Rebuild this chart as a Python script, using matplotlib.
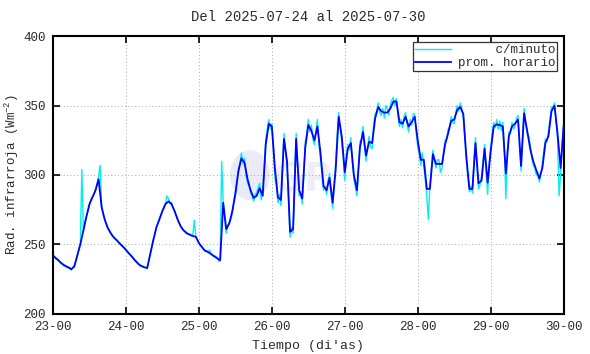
import numpy as np
import matplotlib
matplotlib.use('Agg')
import matplotlib.pyplot as plt
from matplotlib.patches import Ellipse

# datos: promedio horario (desde el dia 23 a las 00h, una muestra por hora)
prom_horario = [
    242, 240, 238, 236, 234.5, 233.5, 232, 234, 242, 250, 260, 270, 279, 284, 289, 297,
    277, 268, 262, 258, 255, 253, 250.5, 248.5, 246, 243.5, 241, 238.5, 236, 234.5, 233.5, 233,
    243, 253, 262, 268, 274, 279, 281, 279, 274, 268, 263, 260, 258, 257, 256, 255.5,
    251, 248, 245.5, 244.5, 243, 241.5, 240, 238.5, 280, 261, 265, 274, 286, 303, 312, 309,
    297, 289, 283.5, 285, 290.5, 285, 322, 337, 335, 305, 284, 282, 326, 310, 259, 261,
    326, 289, 283, 320, 336, 332, 325, 335, 316, 292, 289, 298, 280, 304, 342, 328,
    302, 319, 323, 300, 289, 320, 331, 314, 324, 323, 341, 349, 346, 345, 345, 348,
    353, 353, 338, 337, 342, 335, 338, 342, 325, 311, 311, 290, 290, 315, 308, 308,
    308, 322, 330, 339, 340, 347, 349, 344, 313, 290, 290, 323, 294, 296, 319, 294.5,
    317, 335, 336.5, 336, 335, 301, 328, 335, 337, 340, 306.5, 344.5, 332, 319, 310, 303.5,
    297.5, 305, 323, 328, 346, 350, 330, 305, 335,
]

# datos por minuto (leidos cada media hora)
c_minuto = [
    243, 240.5, 239, 239.5, 238.5, 236, 236.5, 234.5, 235, 233.5, 233, 233.5, 231.5, 233.5, 234.5, 237.5,
    241.5, 246.5, 250.5, 304, 259.5, 265.5, 270.5, 274, 278.5, 282.5, 284.5, 286, 289.5, 293, 299, 307,
    277.5, 271.5, 268.5, 264.5, 261.5, 260.5, 258.5, 256, 255.5, 253.5, 253, 251.5, 251, 249, 248, 247.5,
    246.5, 244.5, 243, 242.5, 241.5, 239.5, 238, 237.5, 236.5, 235, 234, 234.5, 233.5, 233, 232.5, 238.5,
    243.5, 248, 253.5, 257, 262.5, 265, 268.5, 271, 274.5, 277, 280, 285, 283, 279.5, 280.5, 276,
    274.5, 271, 268, 265, 263.5, 261, 260, 259.5, 258.5, 257, 257.5, 256, 256.5, 267.5, 255, 253,
    251.5, 249, 248.5, 246.5, 245, 245.5, 244, 246, 243.5, 242, 241, 241.5, 240.5, 238, 238, 310,
    281, 268, 258, 264, 266, 268, 272, 282, 288, 296, 301, 309, 316, 308, 312, 300,
    294, 292, 287, 285, 281, 286, 287, 291, 294, 282, 288, 305, 326, 333, 340, 333,
    337, 322, 298, 292, 280, 286, 278, 306, 330, 318, 306, 282, 255, 262, 258, 298,
    330, 305, 285, 288, 279, 300, 324, 330, 340, 331, 336, 326, 322, 332, 340, 322,
    312, 300, 289, 292, 286, 296, 301, 286, 276, 292, 308, 330, 345, 333, 324, 312,
    296, 314, 322, 318, 327, 308, 297, 291, 285, 305, 324, 326, 335, 320, 310, 320,
    328, 320, 319, 336, 344, 346, 352, 345, 343, 348, 341, 350, 348, 343, 351, 354,
    356, 350, 355, 342, 335, 340, 334, 342, 345, 336, 331, 340, 336, 344, 344, 330,
    320, 315, 307, 316, 306, 296, 284, 268, 293, 305, 318, 310, 305, 311, 311, 302,
    305, 316, 325, 326, 333, 335, 342, 338, 337, 345, 350, 346, 352, 348, 341, 325,
    310, 298, 288, 292, 287, 310, 327, 305, 290, 293, 299, 310, 322, 302, 286, 308,
    320, 330, 338, 334, 340, 333, 339, 332, 338, 318, 283, 318, 331, 330, 338, 333,
    335, 341, 343, 320, 303, 328, 348, 337, 330, 328, 322, 312, 307, 305, 300, 302,
    295, 300, 308, 318, 326, 324, 331, 340, 349, 349, 352, 338, 326, 285, 300, 322,
    338,
]

dias = [23, 24, 25, 26, 27, 28, 29, 30]
etiquetas_x = ["23-00", "24-00", "25-00", "26-00", "27-00", "28-00", "29-00", "30-00"]

plt.rcParams['font.family'] = ['Liberation Mono', 'DejaVu Sans Mono']
plt.rcParams['mathtext.default'] = 'regular'
txt_color = '#2a2a2a'

t_hora = 23 + np.arange(len(prom_horario)) / 24.0
t_min = 23 + np.arange(len(c_minuto)) / 48.0

fig = plt.figure(figsize=(5.9, 3.54), dpi=100)
ax = fig.add_axes([0.0898, 0.1138, 0.8655, 0.7837])

# marca de agua tenue
ax.add_patch(Ellipse((25.70, 300), 0.55, 36, color='#ebebf7', zorder=0, lw=0))
ax.text(26.0, 288, "GR", fontsize=28, fontweight='bold', color='#eeeef8',
        family='DejaVu Sans', zorder=0)

ax.plot(t_min, c_minuto, color='#00f0f0', linewidth=1.0, label="     c/minuto", zorder=2)
ax.plot(t_hora, prom_horario, color='#0000ff', linewidth=1.3, label="prom. horario", zorder=3)

ax.set_xlim(23, 30)
ax.set_ylim(200, 400)
ax.set_xticks(dias)
ax.set_xticklabels(etiquetas_x)
ax.set_yticks([200, 250, 300, 350, 400])

ax.grid(True, color='#a8a8a8', linestyle=(0, (1, 2.5)), linewidth=0.7)
ax.tick_params(direction='in', top=True, right=True, length=5, width=1.2,
               labelsize=9, labelcolor=txt_color, pad=5)
for s in ax.spines.values():
    s.set_linewidth(1.5)

ax.set_title("Del 2025-07-24 al 2025-07-30", fontsize=10, color=txt_color, pad=11)
ax.set_xlabel("Tiempo (di'as)", fontsize=9.5, color=txt_color, labelpad=5)
ax.set_ylabel("Rad. infrarroja (Wm$^{-2}$)", fontsize=9, color=txt_color, labelpad=2)

leg = ax.legend(loc='upper right', bbox_to_anchor=(0.987, 0.978), fontsize=9,
                frameon=True, fancybox=False, framealpha=1, edgecolor='#333333',
                borderpad=0.15, labelspacing=0.05, handlelength=2.9, handletextpad=0.5,
                borderaxespad=0)
leg.get_frame().set_linewidth(0.9)
for t in leg.get_texts():
    t.set_color(txt_color)

fig.savefig("out.png", dpi=100)
